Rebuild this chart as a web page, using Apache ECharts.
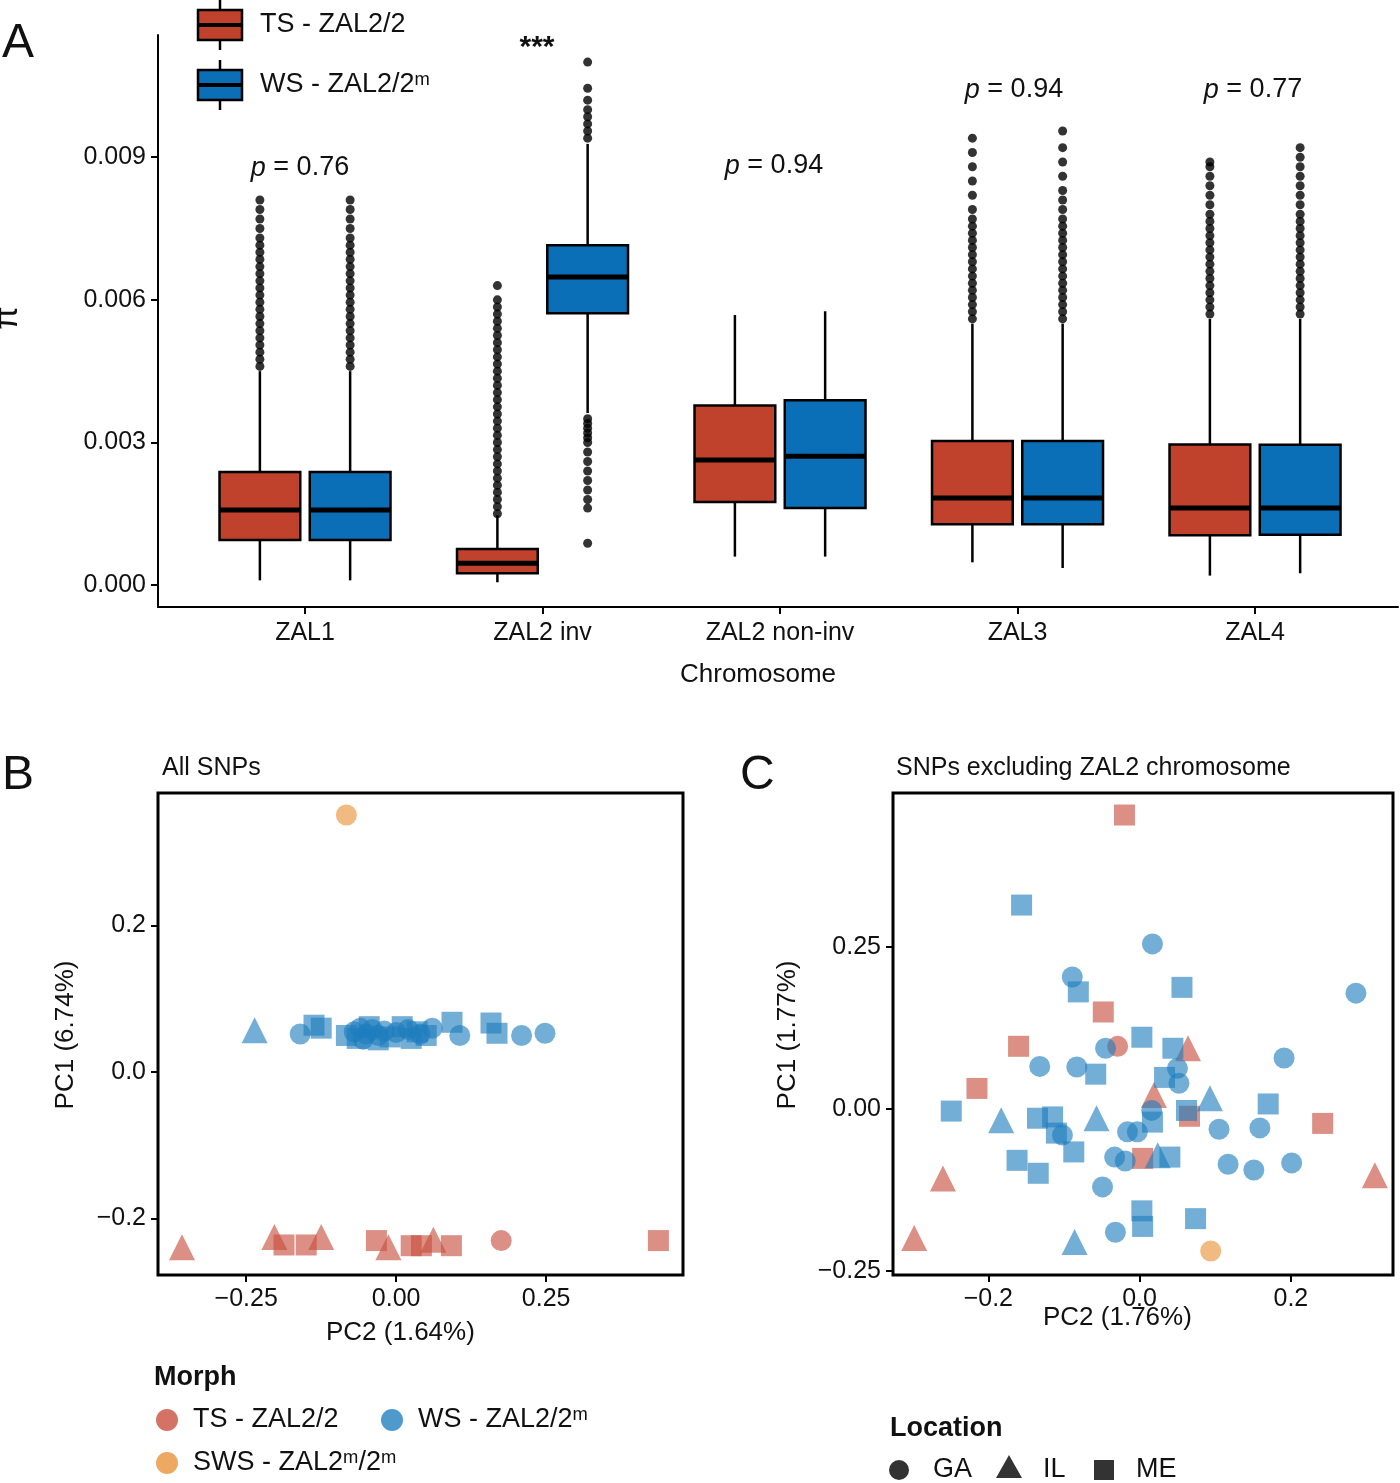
<!DOCTYPE html>
<html lang="en">
  <head>
    <meta charset="UTF-8" />
    <title>Chart</title>
    <style>
      body { margin: 0; background: #fff; }
    </style>
  </head>
  <body>
    <div id="main" style="width: 1400px; height: 1483px;"></div>

    <script src="https://cdn.jsdelivr.net/npm/echarts@6/dist/echarts.min.js"></script>
    <script>
      // ---- panel A data ----
      const chromosomes = ['ZAL1', 'ZAL2 inv', 'ZAL2 non-inv', 'ZAL3', 'ZAL4']
      // [low, q1, median, q3, high]
      const tsStats = [
        [0.0001, 0.00095, 0.00158, 0.00238, 0.0045],
        [0.00006, 0.00025, 0.00046, 0.00076, 0.00147],
        [0.0006, 0.00175, 0.00263, 0.00378, 0.00568],
        [0.00048, 0.00128, 0.00183, 0.00303, 0.0055],
        [0.0002, 0.00105, 0.00162, 0.00296, 0.0056]
      ]
      const wsStats = [
        [0.0001, 0.00095, 0.00158, 0.00238, 0.0045],
        [0.00362, 0.00572, 0.00648, 0.00715, 0.00928],
        [0.0006, 0.00162, 0.00271, 0.00389, 0.00576],
        [0.00036, 0.00128, 0.00183, 0.00303, 0.0055],
        [0.00025, 0.00106, 0.00162, 0.00295, 0.0056]
      ]
      const tsOutliers = [
        [0.0046, 0.00475, 0.0049, 0.00505, 0.0052, 0.00535, 0.0055, 0.00565, 0.0058, 0.00595, 0.0061, 0.00625, 0.0064, 0.00655, 0.0067, 0.00685, 0.007, 0.00715, 0.0073, 0.0075, 0.0077, 0.0079, 0.0081],
        [0.0015, 0.00165, 0.0018, 0.00195, 0.0021, 0.00225, 0.0024, 0.00255, 0.0027, 0.00285, 0.003, 0.00315, 0.0033, 0.00345, 0.0036, 0.00375, 0.0039, 0.00405, 0.0042, 0.00435, 0.0045, 0.00465, 0.0048, 0.00495, 0.0051, 0.00525, 0.0054, 0.00555, 0.0057, 0.00585, 0.006, 0.0063],
        [],
        [0.0056, 0.00575, 0.0059, 0.00605, 0.0062, 0.00635, 0.0065, 0.00665, 0.0068, 0.00695, 0.0071, 0.00725, 0.0074, 0.00755, 0.0077, 0.0079, 0.0082, 0.0085, 0.0088, 0.0091, 0.0094],
        [0.0057, 0.00585, 0.006, 0.00615, 0.0063, 0.00645, 0.0066, 0.00675, 0.0069, 0.00705, 0.0072, 0.00735, 0.0075, 0.00765, 0.0078, 0.008, 0.0082, 0.0084, 0.0086, 0.0088, 0.0089]
      ]
      const wsOutliers = [
        [0.0046, 0.00475, 0.0049, 0.00505, 0.0052, 0.00535, 0.0055, 0.00565, 0.0058, 0.00595, 0.0061, 0.00625, 0.0064, 0.00655, 0.0067, 0.00685, 0.007, 0.00715, 0.0073, 0.0075, 0.0077, 0.0079, 0.0081],
        [0.00088, 0.00162, 0.0018, 0.002, 0.0022, 0.0024, 0.0026, 0.0028, 0.003, 0.0031, 0.0032, 0.0033, 0.0034, 0.0035, 0.0094, 0.00955, 0.0097, 0.00985, 0.01, 0.0102, 0.01045, 0.011],
        [],
        [0.0056, 0.00575, 0.0059, 0.00605, 0.0062, 0.00635, 0.0065, 0.00665, 0.0068, 0.00695, 0.0071, 0.00725, 0.0074, 0.00755, 0.0077, 0.0079, 0.0081, 0.0083, 0.0086, 0.0089, 0.0092, 0.00955],
        [0.0057, 0.00585, 0.006, 0.00615, 0.0063, 0.00645, 0.0066, 0.00675, 0.0069, 0.00705, 0.0072, 0.00735, 0.0075, 0.00765, 0.0078, 0.008, 0.0082, 0.0084, 0.0086, 0.0088, 0.009, 0.0092]
      ]
      const pLabels = ['p = 0.76', '***', 'p = 0.94', 'p = 0.94', 'p = 0.77']
      const yTicksA = [0, 0.003, 0.006, 0.009]

      // ---- panel B (All SNPs) : [PC2, PC1] ----
      const bTsGA = [[0.175, -0.23]]
      const bTsIL = [[-0.357, -0.239], [-0.203, -0.225], [-0.125, -0.225], [-0.013, -0.239], [0.062, -0.229]]
      const bTsME = [[-0.187, -0.236], [-0.15, -0.236], [-0.033, -0.23], [0.025, -0.237], [0.042, -0.237], [0.092, -0.237], [0.437, -0.23]]
      const bWsGA = [[-0.16, 0.052], [-0.07, 0.055], [-0.06, 0.06], [-0.05, 0.052], [-0.04, 0.058], [-0.03, 0.05], [-0.02, 0.056], [0.0, 0.054], [0.02, 0.058], [0.04, 0.052], [0.06, 0.06], [-0.055, 0.045], [0.106, 0.05], [0.209, 0.05], [0.248, 0.053]]
      const bWsIL = [[-0.236, 0.057]]
      const bWsME = [[-0.137, 0.064], [-0.125, 0.06], [-0.083, 0.05], [-0.065, 0.046], [-0.045, 0.062], [-0.03, 0.044], [-0.01, 0.048], [0.01, 0.062], [0.025, 0.046], [0.035, 0.055], [0.05, 0.05], [0.093, 0.068], [0.158, 0.067], [0.168, 0.053]]
      const bSwsGA = [[-0.083, 0.351]]

      // ---- panel C (SNPs excluding ZAL2) ----
      const cTsGA = [[-0.029, 0.097]]
      const cTsIL = [[0.064, 0.094], [0.019, 0.022], [-0.26, -0.107], [0.311, -0.102], [-0.298, -0.199]]
      const cTsME = [[-0.02, 0.454], [-0.048, 0.15], [-0.16, 0.097], [-0.215, 0.032], [0.066, -0.011], [0.242, -0.022], [0.004, -0.076]]
      const cWsGA = [[0.017, 0.255], [-0.089, 0.204], [0.286, 0.179], [-0.045, 0.094], [0.191, 0.079], [-0.132, 0.066], [-0.083, 0.065], [0.05, 0.063], [0.052, 0.04], [0.016, -0.002], [-0.102, -0.04], [-0.016, -0.035], [-0.003, -0.035], [0.105, -0.031], [0.159, -0.029], [-0.033, -0.074], [-0.019, -0.08], [0.117, -0.085], [0.151, -0.094], [0.201, -0.083], [-0.049, -0.12], [-0.032, -0.19]]
      const cWsIL = [[0.093, 0.017], [-0.183, -0.017], [-0.057, -0.014], [0.024, -0.071], [-0.086, -0.205]]
      const cWsME = [[-0.156, 0.315], [-0.081, 0.181], [0.056, 0.188], [0.003, 0.111], [0.044, 0.094], [-0.058, 0.054], [0.033, 0.049], [0.17, 0.008], [-0.249, -0.003], [0.062, -0.002], [-0.135, -0.014], [-0.115, -0.012], [0.017, -0.02], [-0.11, -0.037], [-0.087, -0.066], [-0.162, -0.079], [0.04, -0.074], [-0.134, -0.099], [0.003, -0.157], [0.004, -0.181], [0.074, -0.169]]
      const cSwsGA = [[0.094, -0.219]]

      const TS = '#c0412c', WS = '#0b6fb8'
      const ptRed = 'rgba(201,80,62,0.8)', ptBlue = 'rgba(30,125,190,0.78)', ptOrange = 'rgba(235,160,80,0.9)'
      const FONT = 'Liberation Sans'
      const offset = 0.19, halfW = 0.17

      let myChart = echarts.init(document.getElementById('main'))

      function boxData(stats, dx, color) {
        return stats.map((s, i) => [i + 1 + dx].concat(s).concat([color]))
      }
      function outlierData(outs, dx) {
        let res = []
        outs.forEach((arr, i) => arr.forEach(v => res.push([i + 1 + dx, v])))
        return res
      }
      function renderBox(params, api) {
        const x = api.value(0)
        const color = api.value(6)
        const lo = api.coord([x, api.value(1)])
        const q1 = api.coord([x, api.value(2)])
        const md = api.coord([x, api.value(3)])
        const q3 = api.coord([x, api.value(4)])
        const hi = api.coord([x, api.value(5)])
        const left = api.coord([x - halfW, 0])[0]
        const right = api.coord([x + halfW, 0])[0]
        const ls = { stroke: '#000', lineWidth: 2.5 }
        return {
          type: 'group',
          children: [
            { type: 'line', shape: { x1: lo[0], y1: lo[1], x2: q1[0], y2: q1[1] }, style: ls },
            { type: 'line', shape: { x1: q3[0], y1: q3[1], x2: hi[0], y2: hi[1] }, style: ls },
            { type: 'rect', shape: { x: left, y: q3[1], width: right - left, height: q1[1] - q3[1] }, style: { fill: color, stroke: '#000', lineWidth: 2.5 } },
            { type: 'line', shape: { x1: left, y1: md[1], x2: right, y2: md[1] }, style: { stroke: '#000', lineWidth: 5 } }
          ]
        }
      }

      function pcaSeries(data, shape, color, xi) {
        return {
          type: 'scatter', xAxisIndex: xi, yAxisIndex: xi, data: data,
          symbol: shape, symbolSize: shape === 'triangle' ? 26 : 21,
          itemStyle: { color: color }
        }
      }

      const axisTxt = { color: '#111', fontSize: 25, fontFamily: FONT }
      const lineAx = { show: true, onZero: false, lineStyle: { color: '#000', width: 2 } }
      const hiddenAx = { show: false, onZero: false }
      const tickAx = { show: true, length: 7, lineStyle: { color: '#000', width: 2 } }
      const minus = v => String(v).replace('-', '\u2212')

      let option = {
        animation: false,
        grid: [
          { left: 158, top: 35, width: 1240, height: 572 },
          { left: 158, top: 793, width: 525, height: 482, show: true, borderColor: '#000', borderWidth: 3 },
          { left: 893, top: 793, width: 500, height: 482, show: true, borderColor: '#000', borderWidth: 3 }
        ],
        xAxis: [
          {
            gridIndex: 0, type: 'value', position: 'bottom', min: 0.381, max: 5.602, splitLine: { show: false },
            axisLine: lineAx, axisTick: Object.assign({ customValues: [1, 2, 3, 4, 5] }, tickAx),
            axisLabel: Object.assign({}, axisTxt, { customValues: [1, 2, 3, 4, 5], formatter: v => chromosomes[Math.round(v) - 1], margin: 14 })
          },
          {
            gridIndex: 1, type: 'value', position: 'bottom', min: -0.397, max: 0.478, splitLine: { show: false },
            axisLine: hiddenAx, axisTick: Object.assign({ customValues: [-0.25, 0, 0.25] }, tickAx),
            axisLabel: Object.assign({}, axisTxt, { customValues: [-0.25, 0, 0.25], formatter: v => minus(v.toFixed(2)), margin: 12 })
          },
          {
            gridIndex: 2, type: 'value', position: 'bottom', min: -0.326, max: 0.335, splitLine: { show: false },
            axisLine: hiddenAx, axisTick: Object.assign({ customValues: [-0.2, 0, 0.2] }, tickAx),
            axisLabel: Object.assign({}, axisTxt, { customValues: [-0.2, 0, 0.2], formatter: v => minus(v.toFixed(1)), margin: 12 })
          }
        ],
        yAxis: [
          {
            gridIndex: 0, type: 'value', position: 'left', min: -0.00046, max: 0.01157, splitLine: { show: false },
            axisLine: lineAx, axisTick: Object.assign({ customValues: yTicksA }, tickAx),
            axisLabel: Object.assign({}, axisTxt, { customValues: yTicksA, formatter: v => v.toFixed(3), margin: 12 })
          },
          {
            gridIndex: 1, type: 'value', position: 'left', min: -0.277, max: 0.381, splitLine: { show: false },
            axisLine: hiddenAx, axisTick: Object.assign({ customValues: [-0.2, 0, 0.2] }, tickAx),
            axisLabel: Object.assign({}, axisTxt, { customValues: [-0.2, 0, 0.2], formatter: v => minus(v.toFixed(1)), margin: 12 })
          },
          {
            gridIndex: 2, type: 'value', position: 'left', min: -0.256, max: 0.488, splitLine: { show: false },
            axisLine: hiddenAx, axisTick: Object.assign({ customValues: [-0.25, 0, 0.25] }, tickAx),
            axisLabel: Object.assign({}, axisTxt, { customValues: [-0.25, 0, 0.25], formatter: v => minus(v.toFixed(2)), margin: 12 })
          }
        ],
        series: [
          { type: 'custom', xAxisIndex: 0, yAxisIndex: 0, renderItem: renderBox, data: boxData(tsStats, -offset, TS), z: 3 },
          { type: 'custom', xAxisIndex: 0, yAxisIndex: 0, renderItem: renderBox, data: boxData(wsStats, offset, WS), z: 3 },
          { type: 'scatter', xAxisIndex: 0, yAxisIndex: 0, data: outlierData(tsOutliers, -offset), symbolSize: 9, itemStyle: { color: '#000' } },
          { type: 'scatter', xAxisIndex: 0, yAxisIndex: 0, data: outlierData(wsOutliers, offset), symbolSize: 9, itemStyle: { color: '#000' } },

          pcaSeries(bTsGA, 'circle', ptRed, 1), pcaSeries(bTsIL, 'triangle', ptRed, 1), pcaSeries(bTsME, 'rect', ptRed, 1),
          pcaSeries(bWsGA, 'circle', ptBlue, 1), pcaSeries(bWsIL, 'triangle', ptBlue, 1), pcaSeries(bWsME, 'rect', ptBlue, 1),
          pcaSeries(bSwsGA, 'circle', ptOrange, 1),

          pcaSeries(cTsGA, 'circle', ptRed, 2), pcaSeries(cTsIL, 'triangle', ptRed, 2), pcaSeries(cTsME, 'rect', ptRed, 2),
          pcaSeries(cWsGA, 'circle', ptBlue, 2), pcaSeries(cWsIL, 'triangle', ptBlue, 2), pcaSeries(cWsME, 'rect', ptBlue, 2),
          pcaSeries(cSwsGA, 'circle', ptOrange, 2)
        ],
        graphic: []
      }

      // text overlays
      const g = option.graphic
      const txt = (x, y, text, size, extra) => g.push({ type: 'text', left: x, top: y, style: Object.assign({ text: text, fontSize: size, fontFamily: FONT, fill: '#111' }, extra || {}) })
      txt(2, 20, 'A', 48)
      txt(2, 752, 'B', 48)
      txt(740, 752, 'C', 48)
      txt(680, 662, 'Chromosome', 26)
      txt(326, 1320, 'PC2 (1.64%)', 26)
      txt(1043, 1305, 'PC2 (1.76%)', 26)
      txt(162, 756, 'All SNPs', 25)
      txt(896, 756, 'SNPs excluding ZAL2 chromosome', 25)
      g.push({ type: 'text', x: 8, y: 318, rotation: Math.PI / 2, style: { text: 'π', fontSize: 34, fontFamily: FONT, fill: '#111', align: 'center', verticalAlign: 'middle' } })
      g.push({ type: 'text', x: 66, y: 1035, rotation: Math.PI / 2, style: { text: 'PC1 (6.74%)', fontSize: 26, fontFamily: FONT, fill: '#111', align: 'center', verticalAlign: 'middle' } })
      g.push({ type: 'text', x: 788, y: 1035, rotation: Math.PI / 2, style: { text: 'PC1 (1.77%)', fontSize: 26, fontFamily: FONT, fill: '#111', align: 'center', verticalAlign: 'middle' } })

      // p-values above groups
      const pPos = [[300, 168], [537, 48], [774, 166], [1014, 90], [1253, 90]]
      pLabels.forEach((p, i) => {
        const rich = p === '***'
          ? { text: p, fontSize: 30, fontWeight: 'bold' }
          : { text: '{i|p} = ' + p.slice(4), rich: { i: { fontStyle: 'italic', fontSize: 27, fontFamily: FONT } } }
        g.push({ type: 'text', x: pPos[i][0], y: pPos[i][1], style: Object.assign({ fontSize: 27, fontFamily: FONT, fill: '#111', align: 'center', verticalAlign: 'middle' }, rich) })
      })

      // panel A legend
      ;[[TS, 'TS - ZAL2/2', 25], [WS, 'WS - ZAL2/2ᵐ', 85]].forEach(([c, label, cy]) => {
        g.push({ type: 'line', shape: { x1: 220, y1: cy - 25, x2: 220, y2: cy + 25 }, style: { stroke: '#000', lineWidth: 2.5 } })
        g.push({ type: 'rect', shape: { x: 198, y: cy - 15, width: 44, height: 30 }, style: { fill: c, stroke: '#000', lineWidth: 2.5 } })
        g.push({ type: 'line', shape: { x1: 198, y1: cy, x2: 242, y2: cy }, style: { stroke: '#000', lineWidth: 4 } })
        g.push({ type: 'text', x: 260, y: cy, style: { text: label, fontSize: 27, fontFamily: FONT, fill: '#111', verticalAlign: 'middle' } })
      })

      // Morph legend
      txt(154, 1364, 'Morph', 27, { fontWeight: 'bold' })
      ;[[ptRed, 'TS - ZAL2/2', 167, 1420], [ptBlue, 'WS - ZAL2/2ᵐ', 392, 1420], [ptOrange, 'SWS - ZAL2ᵐ/2ᵐ', 167, 1463]].forEach(([c, label, x, y]) => {
        g.push({ type: 'circle', shape: { cx: x, cy: y, r: 11 }, style: { fill: c } })
        g.push({ type: 'text', x: x + 26, y: y, style: { text: label, fontSize: 27, fontFamily: FONT, fill: '#111', verticalAlign: 'middle' } })
      })

      // Location legend
      txt(890, 1415, 'Location', 27, { fontWeight: 'bold' })
      g.push({ type: 'circle', shape: { cx: 899, cy: 1470, r: 10 }, style: { fill: '#333' } })
      g.push({ type: 'text', x: 933, y: 1470, style: { text: 'GA', fontSize: 27, fontFamily: FONT, fill: '#111', verticalAlign: 'middle' } })
      g.push({ type: 'polygon', shape: { points: [[1009, 1455], [996, 1478], [1022, 1478]] }, style: { fill: '#333' } })
      g.push({ type: 'text', x: 1043, y: 1470, style: { text: 'IL', fontSize: 27, fontFamily: FONT, fill: '#111', verticalAlign: 'middle' } })
      g.push({ type: 'rect', shape: { x: 1094, y: 1460, width: 20, height: 20 }, style: { fill: '#333' } })
      g.push({ type: 'text', x: 1136, y: 1470, style: { text: 'ME', fontSize: 27, fontFamily: FONT, fill: '#111', verticalAlign: 'middle' } })

      myChart.setOption(option)
    </script>
  </body>
</html>
